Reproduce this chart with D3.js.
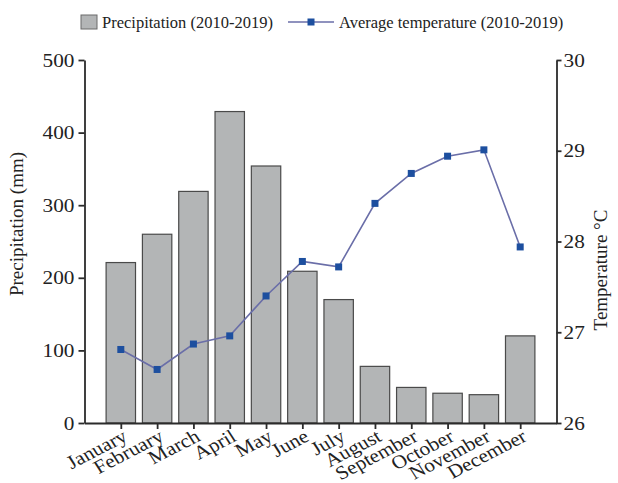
<!DOCTYPE html>
<html>
<head>
<meta charset="utf-8">
<script src="https://cdn.jsdelivr.net/npm/d3@7"></script>
<style>
  body { margin: 0; background: #fff; }
  svg { display: block; font-family: "Liberation Serif", "Times New Roman", serif; }
</style>
</head>
<body>
<svg id="chart" width="618" height="483"></svg>
<script>
// monthly precipitation and temperature, 2010-2019
const months = ["January", "February", "March", "April", "May", "June", "July",
    "August", "September", "October", "November", "December"];
const precipitation = [221, 260, 319, 429, 354, 209, 170, 78, 49, 41, 39, 120];
const temperature = [26.81, 26.59, 26.87, 26.96, 27.40, 27.78, 27.72, 28.42, 28.75, 28.94, 29.01, 27.94];
const precipTicks = [0, 100, 200, 300, 400, 500];
const tempTicks = [26, 27, 28, 29, 30];

const svg = d3.select("#chart");
const plotL = 84.5, plotR = 556.5, plotT = 60, plotB = 423;
const stretch = 1.12; // the original picture is a little wide

// months sit at 1..12, axis runs from 0 to 13
const x = d3.scaleLinear().domain([0, 13]).range([plotL, plotR]);
const yP = d3.scaleLinear().domain([0, 500]).range([plotB, plotT]);
const yT = d3.scaleLinear().domain([26, 30]).range([plotB, plotT]);
const barW = (x(1) - x(0)) * 0.81;

//bars
svg.append("g")
    .selectAll("rect")
    .data(precipitation)
    .enter()
    .append("rect")
    .attr("x", (d, i) => x(i + 1) - barW / 2)
    .attr("y", d => yP(d))
    .attr("width", barW)
    .attr("height", d => yP(0) - yP(d))
    .attr("fill", "#b3b5b6")
    .attr("stroke", "#4a4a4a")
    .attr("stroke-width", 1.2);

//temperature line
const lineFun = d3.line()
    .x((d, i) => x(i + 1))
    .y(d => yT(d));
svg.append("path")
    .attr("d", lineFun(temperature))
    .attr("fill", "none")
    .attr("stroke", "#6a6ea8")
    .attr("stroke-width", 1.6);
svg.append("g")
    .selectAll("rect")
    .data(temperature)
    .enter()
    .append("rect")
    .attr("x", (d, i) => x(i + 1) - 3.5)
    .attr("y", d => yT(d) - 3.5)
    .attr("width", 7)
    .attr("height", 7)
    .attr("fill", "#1d4f9f");

//axes
const xAxis = svg.append("g")
    .attr("transform", `translate(0, ${plotB})`)
    .call(d3.axisBottom(x).tickValues(d3.range(1, 13)).tickSize(6).tickSizeOuter(0).tickFormat(""));
xAxis.selectAll("text").remove();

const yAxisL = svg.append("g")
    .attr("transform", `translate(${plotL}, 0)`)
    .call(d3.axisLeft(yP).tickValues(precipTicks).tickSize(6).tickSizeOuter(0));

const yAxisR = svg.append("g")
    .attr("transform", `translate(${plotR}, 0)`)
    .call(d3.axisRight(yT).tickValues(tempTicks).tickFormat(d3.format("d")).tickSize(5).tickSizeOuter(0));

svg.selectAll(".domain, .tick line")
    .attr("stroke", "#2b2b2b")
    .attr("stroke-width", 1.8);
svg.selectAll(".tick text")
    .attr("font-family", "Liberation Serif")
    .attr("font-size", "19px")
    .attr("fill", "#222");
// widen tick labels a bit, keep them next to the ticks
yAxisL.selectAll(".tick text")
    .attr("x", 0)
    .attr("transform", `translate(-10, 0) scale(${stretch}, 1)`);
yAxisR.selectAll(".tick text")
    .attr("x", 0)
    .attr("transform", `translate(7, 0) scale(${stretch}, 1)`);

//month labels, rotated
svg.append("g")
    .selectAll("text")
    .data(months)
    .enter()
    .append("text")
    .attr("transform", (d, i) => `translate(${x(i + 1) + 8}, ${plotB + 17}) scale(${stretch}, 1) rotate(-30)`)
    .attr("text-anchor", "end")
    .attr("font-size", "19px")
    .attr("fill", "#222")
    .text(d => d);

//axis titles
svg.append("text")
    .attr("transform", "translate(23, 224) rotate(-90)")
    .attr("text-anchor", "middle")
    .attr("font-size", "19px")
    .attr("fill", "#222")
    .text("Precipitation (mm)");
svg.append("text")
    .attr("transform", "translate(607, 270) rotate(-90)")
    .attr("text-anchor", "middle")
    .attr("font-size", "19px")
    .attr("fill", "#222")
    .text("Temperature \u00B0C");

//legend
svg.append("rect")
    .attr("x", 81)
    .attr("y", 15)
    .attr("width", 16)
    .attr("height", 14)
    .attr("fill", "#b3b5b6")
    .attr("stroke", "#6a6a6a");
svg.append("text")
    .attr("x", 102)
    .attr("y", 28)
    .attr("font-size", "16.5px")
    .attr("fill", "#222")
    .text("Precipitation (2010-2019)");
svg.append("line")
    .attr("x1", 288)
    .attr("x2", 334)
    .attr("y1", 22)
    .attr("y2", 22)
    .attr("stroke", "#6a6ea8")
    .attr("stroke-width", 1.6);
svg.append("rect")
    .attr("x", 307.5)
    .attr("y", 18.5)
    .attr("width", 7)
    .attr("height", 7)
    .attr("fill", "#1d4f9f");
svg.append("text")
    .attr("x", 339)
    .attr("y", 28)
    .attr("font-size", "16.5px")
    .attr("fill", "#222")
    .text("Average temperature (2010-2019)");
</script>
</body>
</html>
